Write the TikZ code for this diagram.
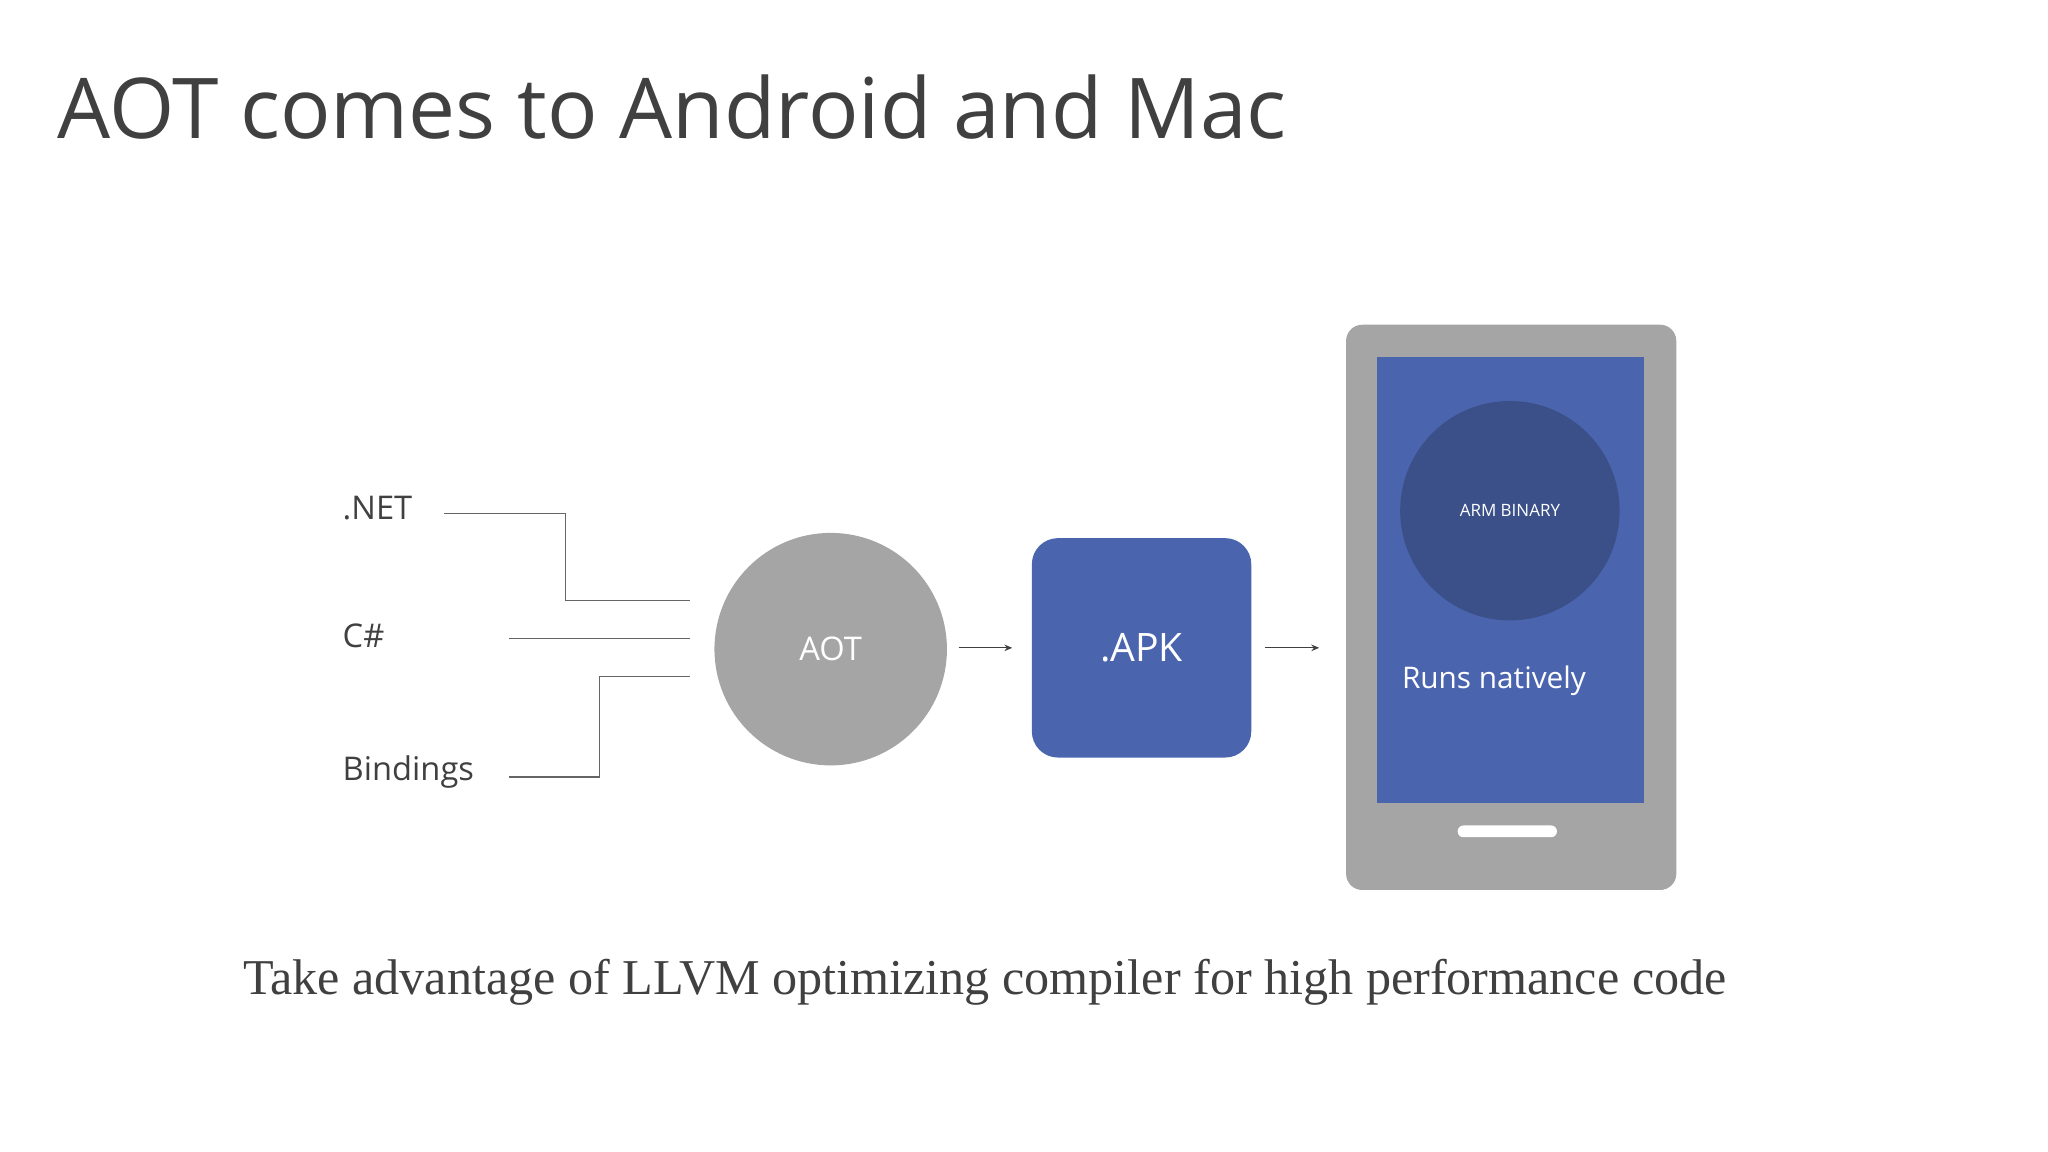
\documentclass[tikz,border=0pt]{standalone}
\usepackage{fontspec}
\setmainfont{Open Sans}
\newfontfamily\serifx{Liberation Serif}
\usetikzlibrary{arrows.meta}
\definecolor{grayc}{HTML}{A5A5A5}
\definecolor{bluec}{HTML}{4A65AE}
\definecolor{darkc}{HTML}{3B5089}
\definecolor{txt}{HTML}{404040}
\begin{document}
\begin{tikzpicture}[x=0.5pt,y=-0.5pt,
  lbl/.style={anchor=west,text=txt,font=\fontsize{12.5}{14}\selectfont,inner sep=0},
  wire/.style={draw=gray!80!black,line width=0.5pt},
  arr/.style={draw=txt,line width=0.5pt,-{Stealth[length=3pt,width=2.5pt]}}]
\useasboundingbox (0,0) rectangle (1568,882);
\node[anchor=west,text=txt,font=\fontsize{32.1}{40}\selectfont,inner sep=0] (title) at (44,82) {AOT comes to Android and Mac};
\node[lbl] (net) at (262,389) {.NET};
\node[lbl] (cs) at (262,487) {C\#};
\node[lbl] (bind) at (262,591) {Bindings};
\coordinate (n1) at (340,393); \coordinate (n2) at (528,460);
\coordinate (c1) at (390,489); \coordinate (c2) at (528,489);
\coordinate (b1) at (390,595); \coordinate (b2) at (528,518);
\draw[wire] (n1) -- (433,393) -- (433,460) -- (n2);
\draw[wire] (c1) -- (c2);
\draw[wire] (b1) -- (459,595) -- (459,518) -- (b2);
\node[circle,fill=grayc,minimum size=89pt,inner sep=0,text=white,font=\fontsize{12.5}{14}\selectfont] (aot) at (636,497) {AOT};
\node[rectangle,rounded corners=10pt,fill=bluec,minimum size=84pt,inner sep=0,text=white,font=\fontsize{15}{18}\selectfont] (apk) at (874,496) {.APK};
\draw[grayc,fill=grayc,rounded corners=6pt] (1031,249) rectangle (1283,681);
\node[fill=bluec,minimum width=102.5pt,minimum height=171pt,inner sep=0] (screen) at (1156.5,444) {};
\node[circle,fill=darkc,minimum size=84pt,inner sep=0,text=white,font=\fontsize{6.5}{8}\selectfont] (arm) at (1156,391) {ARM BINARY};
\node[anchor=west,inner sep=0,text=white,font=\fontsize{11.4}{14}\selectfont] (runs) at (1073,521) {Runs natively};
\fill[white,rounded corners=2.2pt] (1116,632) rectangle (1192,641);
\draw[arr] (734,496) -- (apk.west -| 775,0);
\draw[arr] (apk.east) ++(10,0) -- (1010,496);
\node[text=txt,font=\serifx\fontsize{19.2}{22}\selectfont,inner sep=0] (foot) at (754,752) {Take advantage of LLVM optimizing compiler for high performance code};
\end{tikzpicture}
\end{document}
